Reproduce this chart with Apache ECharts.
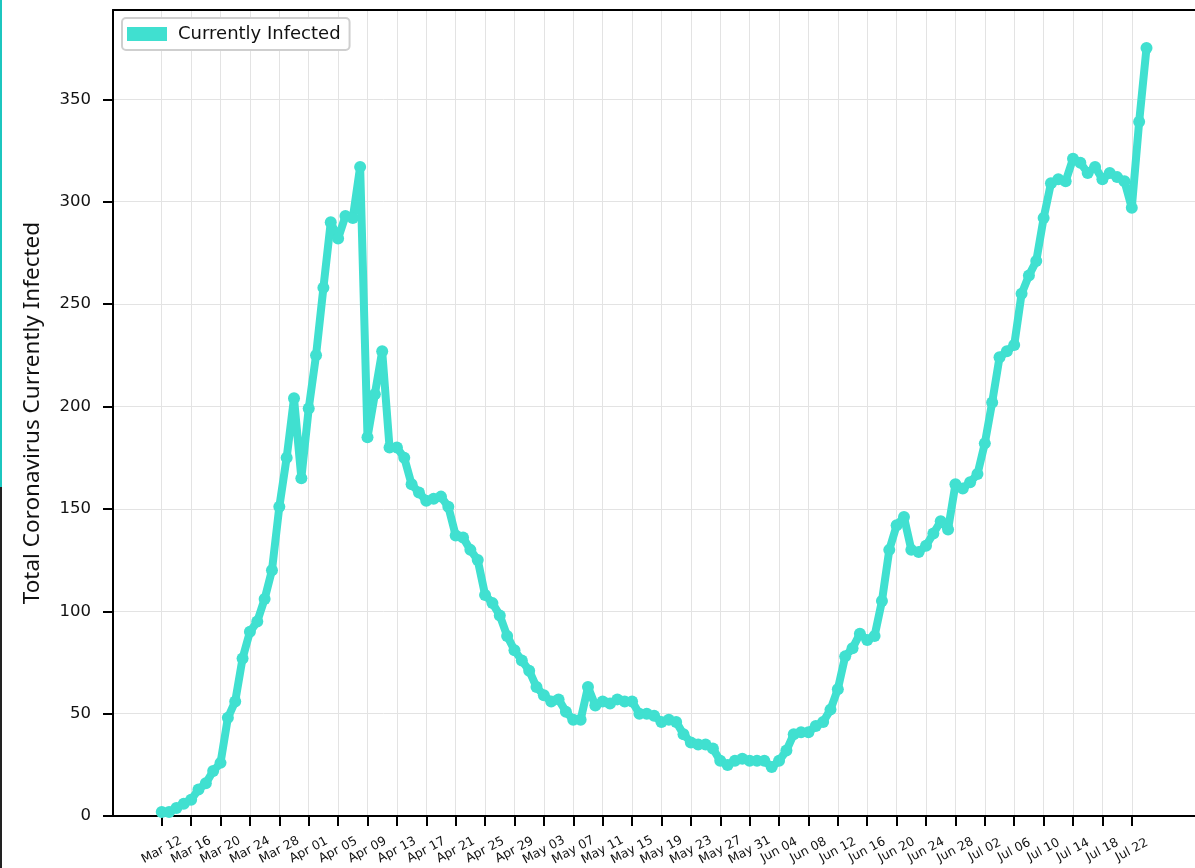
<!DOCTYPE html>
<html>
<head>
<meta charset="utf-8">
<title>Currently Infected</title>
<script src="https://cdn.jsdelivr.net/npm/echarts@6/dist/echarts.min.js"></script>
<style>
    html, body { margin: 0; padding: 0; background: #fff; }
    #chart { width: 1195px; height: 868px; }
</style>
</head>
<body>
<div id="chart"></div>
<script>

// Data: one value per day, starting Mar 12
var infected = [
    // Mar 12 - Mar 31
    2, 2, 4, 6, 8, 13, 16, 22, 26, 48, 56, 77, 90, 95, 106, 120, 151, 175, 204, 165,
    // Apr
    199, 225, 258, 290, 282, 293, 292, 317, 185, 206, 227, 180, 180, 175, 162, 158, 154, 155, 156, 151,
    137, 136, 130, 125, 108, 104, 98, 88, 81, 76,
    // May
    71, 63, 59, 56, 57, 51, 47, 47, 63, 54, 56, 55, 57, 56, 56, 50, 50, 49, 46, 47,
    46, 40, 36, 35, 35, 33, 27, 25, 27, 28, 27,
    // Jun
    27, 27, 24, 27, 32, 40, 41, 41, 44, 46, 52, 62, 78, 82, 89, 86, 88, 105, 130, 142,
    146, 130, 129, 132, 138, 144, 140, 162, 160, 163,
    // Jul 01 - Jul 24
    167, 182, 202, 224, 227, 230, 255, 264, 271, 292, 309, 311, 310, 321, 319, 314, 317, 311, 314, 312,
    310, 297, 339, 375
];

// Tick labels, every 4 days from Mar 12
var tickLabels = [
    'Mar 12', 'Mar 16', 'Mar 20', 'Mar 24', 'Mar 28', 'Apr 01', 'Apr 05', 'Apr 09', 'Apr 13',
    'Apr 17', 'Apr 21', 'Apr 25', 'Apr 29', 'May 03', 'May 07', 'May 11', 'May 15', 'May 19',
    'May 23', 'May 27', 'May 31', 'Jun 04', 'Jun 08', 'Jun 12', 'Jun 16', 'Jun 20', 'Jun 24',
    'Jun 28', 'Jul 02', 'Jul 06', 'Jul 10', 'Jul 14', 'Jul 18', 'Jul 22'
];
var tickStep = 4;
var yTicks = [0, 50, 100, 150, 200, 250, 300, 350];

var seriesName = 'Currently Infected';
var yTitle = 'Total Coronavirus Currently Infected';


var chartEl = document.getElementById('chart');
var chart = echarts.init(chartEl);

// Styles
var lineColor = '#40E0D0',
    axisColor = '#000',
    gridColor = '#e3e3e3',
    labelColor = '#111';

var points = infected.map(function(v, i) { return [i, v]; });
var tickPos = tickLabels.map(function(t, i) { return i * tickStep; });

var xCommon = {
    type: 'value',
    min: -6.63,
    max: 140.6
};

chart.setOption({
    animation: false,
    textStyle: {
        fontFamily: 'DejaVu Sans, sans-serif'
    },

    // thin strip on the left edge of the picture
    graphic: [
        { type: 'rect', left: 0, top: 0, shape: { width: 2, height: 487 }, style: { fill: '#1cc6bf' } },
        { type: 'rect', left: 0, top: 487, shape: { width: 2, height: 381 }, style: { fill: '#222' } }
    ],

    grid: {
        left: 113,
        right: 0,
        top: 10,
        bottom: 51
    },

    legend: {
        left: 122,
        top: 18,
        icon: 'rect',
        itemWidth: 40,
        itemHeight: 14,
        itemGap: 8,
        padding: [7, 9, 7, 5],
        backgroundColor: '#fff',
        borderColor: '#cfcfcf',
        borderWidth: 2,
        borderRadius: 4,
        textStyle: {
            color: labelColor,
            fontSize: 18,
            padding: [0, 0, 0, 6]
        },
        data: [{ name: seriesName, itemStyle: { color: lineColor } }]
    },

    xAxis: [
        Object.assign({}, xCommon, {
            position: 'bottom',
            axisLine: { show: true, onZero: false, lineStyle: { color: axisColor, width: 2 } },
            axisTick: { show: true, length: 10, customValues: tickPos, lineStyle: { color: axisColor, width: 2 } },
            axisLabel: {
                customValues: tickPos,
                rotate: 28,
                align: 'center',
                verticalAlign: 'middle',
                margin: 34,
                fontSize: 12.5,
                color: labelColor,
                formatter: function(v) { return tickLabels[Math.round(v / tickStep)] || ''; }
            },
            splitLine: { show: true, lineStyle: { color: gridColor, width: 1 } }
        }),
        Object.assign({}, xCommon, {
            position: 'top',
            axisLine: { show: true, onZero: false, lineStyle: { color: axisColor, width: 2 } },
            axisTick: { show: false },
            axisLabel: { show: false },
            splitLine: { show: false }
        })
    ],

    yAxis: {
        type: 'value',
        min: 0,
        max: 393.6,
        name: yTitle,
        nameLocation: 'middle',
        nameGap: 69,
        nameTextStyle: {
            fontFamily: 'Noto Sans',
            fontSize: 22.5,
            color: labelColor
        },
        axisLine: { show: true, onZero: false, lineStyle: { color: axisColor, width: 2 } },
        axisTick: { show: true, length: 10, customValues: yTicks, lineStyle: { color: axisColor, width: 2 } },
        axisLabel: {
            customValues: yTicks,
            margin: 22,
            fontSize: 16.5,
            color: labelColor
        },
        splitLine: { show: true, lineStyle: { color: gridColor, width: 1 } }
    },

    series: [
        {
            name: seriesName,
            type: 'line',
            data: points,
            symbol: 'circle',
            symbolSize: 12,
            showAllSymbol: true,
            lineStyle: { color: lineColor, width: 8, join: 'round', cap: 'round' },
            itemStyle: { color: lineColor, borderWidth: 0 }
        }
    ]
});
</script>
</body>
</html>
